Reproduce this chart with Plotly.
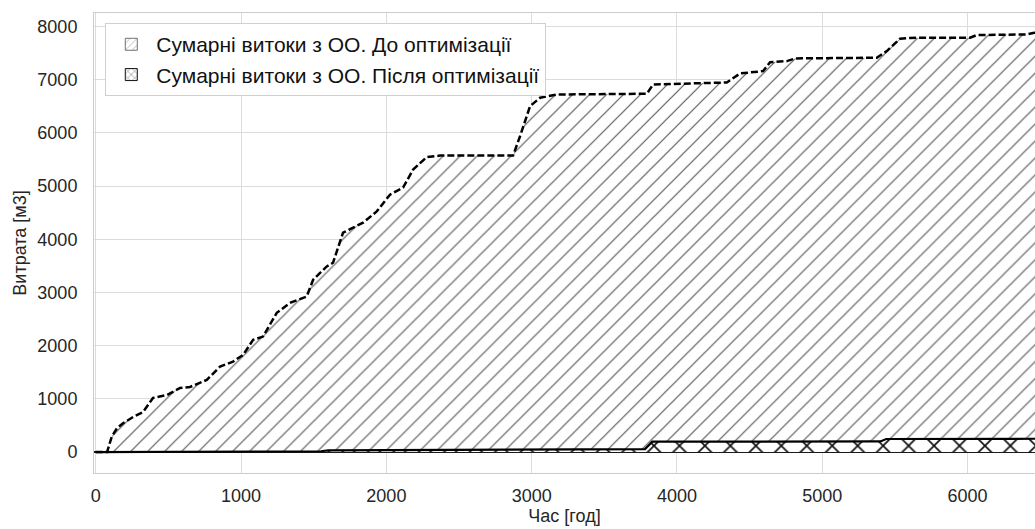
import plotly.graph_objects as go

# Before optimisation (cumulative leakage), hours vs m3
hours_before = [0, 78, 110, 147, 190, 257, 326, 394, 491, 580, 649, 764, 855, 945, 1014,
                1083, 1151, 1246, 1337, 1452, 1496, 1590, 1633, 1702, 1840, 1934, 2025,
                2115, 2184, 2278, 2370, 2872, 2920, 2989, 3058, 3173, 3792, 3836, 4343,
                4435, 4593, 4641, 4756, 4813, 5375, 5444, 5535, 5604, 6017, 6063, 6407,
                6451, 6499]
flow_before = [0, 0, 288, 452, 546, 659, 753, 1017, 1073, 1205, 1224, 1356, 1606, 1701,
               1827, 2109, 2171, 2618, 2806, 2925, 3239, 3490, 3559, 4124, 4313, 4525,
               4840, 4972, 5311, 5546, 5574, 5574, 5938, 6503, 6661, 6723, 6736, 6911,
               6949, 7119, 7162, 7331, 7350, 7401, 7414, 7539, 7772, 7787, 7791, 7840,
               7853, 7880, 7890]

# After optimisation
hours_after = [0, 500, 1000, 1550, 1600, 2500, 3000, 3780, 3830, 5400, 5440, 6499]
flow_after = [0, 5, 10, 15, 30, 40, 45, 55, 195, 200, 245, 250]

x_ticks = [0, 1000, 2000, 3000, 4000, 5000, 6000]
y_ticks = [0, 1000, 2000, 3000, 4000, 5000, 6000, 7000, 8000]

label_before = "Сумарні витоки з ОО. До оптимізації"
label_after = "Сумарні витоки з ОО. Після оптимізації"

pat_before = dict(shape="/", fgcolor="#5a5a5a", bgcolor="white", size=12,
                  solidity=0.1, fillmode="replace")
pat_after = dict(shape="x", fgcolor="#111111", bgcolor="white", size=18,
                 solidity=0.18, fillmode="replace")

fig = go.Figure()
fig.add_trace(go.Scatter(
    x=hours_before, y=flow_before, name=label_before, mode="lines",
    line=dict(color="black", width=2.5, dash="7px,3px"),
    fill="tozeroy", fillcolor="white", fillpattern=pat_before, showlegend=False,
))
fig.add_trace(go.Scatter(
    x=hours_after, y=flow_after, name=label_after, mode="lines",
    line=dict(color="black", width=2.2),
    fill="tozeroy", fillcolor="white", fillpattern=pat_after, showlegend=False,
))
# legend swatches (hatched patches, as in the original legend)
fig.add_trace(go.Bar(
    x=[None], y=[None], name=label_before,
    marker=dict(color="white", line=dict(color="#707070", width=1),
                pattern=dict(shape="/", fgcolor="#707070", bgcolor="white", size=6,
                             solidity=0.2)),
))
fig.add_trace(go.Bar(
    x=[None], y=[None], name=label_after,
    marker=dict(color="white", line=dict(color="#111111", width=1),
                pattern=dict(shape="x", fgcolor="#111111", bgcolor="white", size=6,
                             solidity=0.25)),
))

font_family = "Liberation Sans, Arial, sans-serif"
fig.update_layout(
    width=1035, height=529,
    margin=dict(l=94, r=0, t=13, b=56),
    paper_bgcolor="white", plot_bgcolor="white",
    font=dict(family=font_family, size=18, color="#262626"),
    legend=dict(x=0.012, y=0.978, xanchor="left", yanchor="top",
                bgcolor="white", bordercolor="#d0d0d0", borderwidth=1,
                font=dict(size=21, color="#111111"), tracegroupgap=0,
                itemwidth=40),
    showlegend=True,
)
fig.update_xaxes(
    range=[-12, 6464], tickvals=x_ticks, ticktext=[str(v) for v in x_ticks],
    showgrid=True, gridcolor="#dcdcdc", gridwidth=1, zeroline=False,
    showline=True, linecolor="#cccccc", linewidth=1, mirror=True,
    ticks="", ticklabelstandoff=6,
    title=dict(text="Час [год]", font=dict(size=18), standoff=2),
)
fig.update_yaxes(
    range=[-394, 8255], tickvals=y_ticks, ticktext=[str(v) for v in y_ticks],
    showgrid=True, gridcolor="#dcdcdc", gridwidth=1,
    zeroline=True, zerolinecolor="#1a1a1a", zerolinewidth=2,
    showline=True, linecolor="#cccccc", linewidth=1, mirror=False,
    ticks="", ticklabelstandoff=12,
    title=dict(text="Витрата [м3]", font=dict(size=18), standoff=6),
)

fig.write_html("out.html")
